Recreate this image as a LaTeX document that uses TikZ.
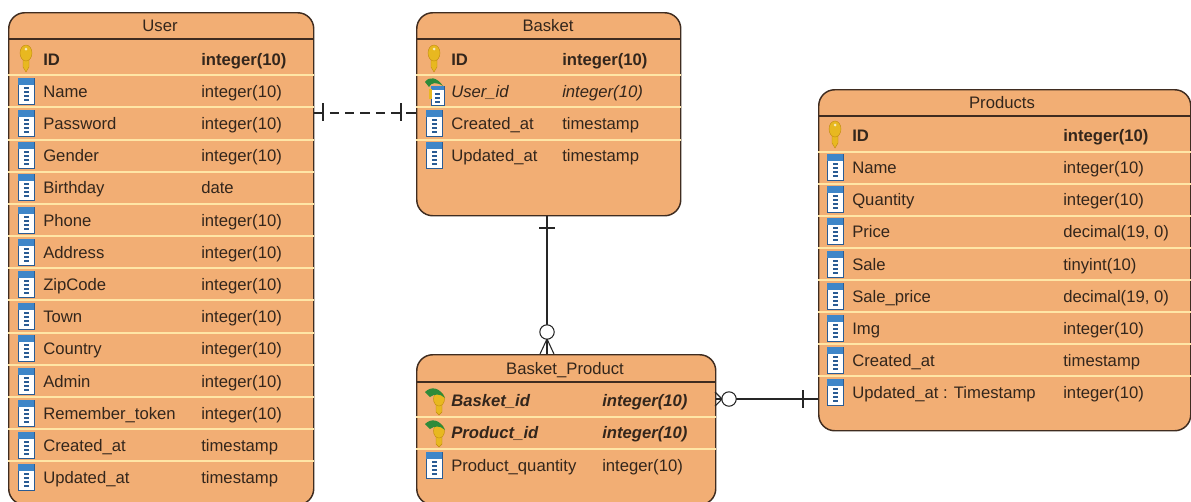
\documentclass[tikz,border=0pt]{standalone}
\usepackage{fontspec}
\setmainfont{Liberation Sans}
\definecolor{boxfill}{HTML}{F2AE74}
\definecolor{boxline}{HTML}{3F2C20}
\definecolor{sepline}{HTML}{FFE6A6}
\definecolor{txt}{HTML}{33261C}
\definecolor{iconblue}{HTML}{3F86C8}
\definecolor{icondark}{HTML}{2A5C94}
\definecolor{keygold}{HTML}{E8B820}
\definecolor{keyedge}{HTML}{C08A10}
\definecolor{fkgreen}{HTML}{2E8B3A}
\newcounter{rw}
\tikzset{
  tablebox/.style={draw=boxline,fill=boxfill,line width=1.1pt,rounded corners=12pt,inner sep=0pt,anchor=north west},
  titletxt/.style={font=\fontsize{12.5}{14}\selectfont,text=txt,inner sep=0pt,anchor=base},
  celltxt/.style={font=\fontsize{12.5}{14}\selectfont,text=txt,inner sep=0pt,anchor=base west},
  headline/.style={draw=boxline,line width=0.9pt},
  sep/.style={draw=sepline,line width=0.9pt},
  rel/.style={draw=black!85,line width=0.8pt},
  pics/keyicon/.style={code={
    \fill[keygold,draw=keyedge,line width=0.3pt] (-3,-5) -- (3,-5) -- (3,8) -- (0,13) -- (-3,8) -- cycle;
    \fill[keygold,draw=keyedge,line width=0.3pt] (0,-6) ellipse (6 and 8);
    \fill[white!70!keygold] (0,-10) circle (1.5);
  }},
  pics/colicon/.style={code={
    \fill[white,draw=icondark,line width=0.7pt] (-8,-13) rectangle (8,13);
    \fill[iconblue] (-8,-13) rectangle (8,-6);
    \foreach \d in {-3,1,5,9}{\fill[icondark] (-2.5,\d-0.8) rectangle (2.5,\d+0.8);}
  }},
  pics/fkicon/.style={code={
    \fill[white,draw=icondark,line width=0.5pt] (-3,-5) rectangle (10,14);
    \fill[iconblue] (-3,-5) rectangle (10,-1);
    \foreach \d in {3,7,11}{\fill[icondark] (1,\d-0.7) rectangle (6,\d+0.7);}
    \fill[keygold] (-2,-2) rectangle (-5,8);
    \fill[fkgreen] (-9,-9) .. controls (-5,-15) and (3,-14) .. (9,-5) .. controls (3,-9) and (-3,-9) .. (-5,-4) -- cycle;
  }},
  pics/pfkicon/.style={code={
    \fill[keygold,draw=keyedge,line width=0.3pt] (-3,0) -- (3,0) -- (3,12) -- (0,15) -- (-3,12) -- cycle;
    \fill[keygold,draw=keyedge,line width=0.3pt] (0,-1) ellipse (5.5 and 7);
    \fill[fkgreen] (-14,-8) .. controls (-8,-14) and (1,-13) .. (6,-2) .. controls (1,-7) and (-5,-6) .. (-9,-3) -- cycle;
  }},
}
\newcommand{\tabrow}[8]{% icon x, name x, type x, centre y, icon, name, type, font
  \pic at (#1,#4) {#5};
  \stepcounter{rw}
  \node[celltxt] (name\therw) at (#2,#4+6) {#8#6};
  \node[celltxt] (type\therw) at (#3,#4+6) {#8#7};
}
\begin{document}
\begin{tikzpicture}[x=0.75pt,y=-0.75pt]
\useasboundingbox (0,0) rectangle (1191,501);
\clip (0,0) rectangle (1191,501);
% tables
\node[tablebox,minimum width=228.75pt,minimum height=369pt] (user) at (8,12) {};
\node[tablebox,minimum width=198pt,minimum height=152.25pt] (basket) at (416,12) {};
\node[tablebox,minimum width=224.25pt,minimum height=112.5pt] (bp) at (416,354) {};
\node[tablebox,minimum width=279pt,minimum height=255.75pt] (products) at (818,89) {};
% titles
\node[titletxt] (tu) at (160,31) {User};
\node[titletxt] (tb) at (548,31) {Basket};
\node[titletxt] (tbp) at (565,374) {Basket\_Product};
\node[titletxt] (tp) at (1002,108) {Products};
% header lines
\draw[headline] (user.west |- 0,39) -- (user.east |- 0,39);
\draw[headline] (basket.west |- 0,39) -- (basket.east |- 0,39);
\draw[headline] (bp.west |- 0,382) -- (bp.east |- 0,382);
\draw[headline] (products.west |- 0,116) -- (products.east |- 0,116);
% separators
\foreach \y in {75,107,140,172,204,236,268,300,333,365,397,429,461}
  \draw[sep] (user.west |- 0,\y) -- (user.east |- 0,\y);
\foreach \y in {75,107,140}
  \draw[sep] (basket.west |- 0,\y) -- (basket.east |- 0,\y);
\foreach \y in {417,449}
  \draw[sep] (bp.west |- 0,\y) -- (bp.east |- 0,\y);
\foreach \y in {152,184,216,248,280,312,344,376}
  \draw[sep] (products.west |- 0,\y) -- (products.east |- 0,\y);
% User rows
\tabrow{26}{43}{201}{59}{keyicon}{ID}{integer(10)}{\bfseries}
\tabrow{26}{43}{201}{91}{colicon}{Name}{integer(10)}{}
\tabrow{26}{43}{201}{123}{colicon}{Password}{integer(10)}{}
\tabrow{26}{43}{201}{155}{colicon}{Gender}{integer(10)}{}
\tabrow{26}{43}{201}{187}{colicon}{Birthday}{date}{}
\tabrow{26}{43}{201}{220}{colicon}{Phone}{integer(10)}{}
\tabrow{26}{43}{201}{252}{colicon}{Address}{integer(10)}{}
\tabrow{26}{43}{201}{284}{colicon}{ZipCode}{integer(10)}{}
\tabrow{26}{43}{201}{316}{colicon}{Town}{integer(10)}{}
\tabrow{26}{43}{201}{348}{colicon}{Country}{integer(10)}{}
\tabrow{26}{43}{201}{381}{colicon}{Admin}{integer(10)}{}
\tabrow{26}{43}{201}{413}{colicon}{Remember\_token}{integer(10)}{}
\tabrow{26}{43}{201}{445}{colicon}{Created\_at}{timestamp}{}
\tabrow{26}{43}{201}{477}{colicon}{Updated\_at}{timestamp}{}
% Basket rows
\tabrow{434}{451}{562}{59}{keyicon}{ID}{integer(10)}{\bfseries}
\tabrow{434}{451}{562}{91}{fkicon}{User\_id}{integer(10)}{\itshape}
\tabrow{434}{451}{562}{123}{colicon}{Created\_at}{timestamp}{}
\tabrow{434}{451}{562}{155}{colicon}{Updated\_at}{timestamp}{}
% Basket_Product rows
\tabrow{439}{451}{602}{400}{pfkicon}{Basket\_id}{integer(10)}{\bfseries\itshape}
\tabrow{439}{451}{602}{432}{pfkicon}{Product\_id}{integer(10)}{\bfseries\itshape}
\tabrow{434}{451}{602}{465}{colicon}{Product\_quantity}{integer(10)}{}
% Products rows
\tabrow{835}{852}{1063}{135}{keyicon}{ID}{integer(10)}{\bfseries}
\tabrow{835}{852}{1063}{167}{colicon}{Name}{integer(10)}{}
\tabrow{835}{852}{1063}{199}{colicon}{Quantity}{integer(10)}{}
\tabrow{835}{852}{1063}{231}{colicon}{Price}{decimal(19, 0)}{}
\tabrow{835}{852}{1063}{264}{colicon}{Sale}{tinyint(10)}{}
\tabrow{835}{852}{1063}{296}{colicon}{Sale\_price}{decimal(19, 0)}{}
\tabrow{835}{852}{1063}{328}{colicon}{Img}{integer(10)}{}
\tabrow{835}{852}{1063}{360}{colicon}{Created\_at}{timestamp}{}
\tabrow{835}{852}{1063}{392}{colicon}{Updated\_at : Timestamp}{integer(10)}{}
% connectors
\coordinate (ra) at (0,113);
\coordinate (rb) at (547,0);
\coordinate (rc) at (0,399);
\draw[rel,dash pattern=on 7pt off 4.5pt] (user.east |- ra) -- (basket.west |- ra);
\draw[rel] (323,103) -- (323,121);
\draw[rel] (401,103) -- (401,121);
\draw[rel] (rb |- basket.south) -- (rb |- bp.north);
\draw[rel] (539,228) -- (555,228);
\draw[rel,fill=white] (547,332) circle (7.2);
\draw[rel] (547,339) -- (540,354) (547,339) -- (554,354);
\draw[rel] (bp.east |- rc) -- (products.west |- rc);
\draw[rel,fill=white] (729,399) circle (7.2);
\draw[rel] (722,399) -- (715,392) (722,399) -- (715,406);
\draw[rel] (803,390) -- (803,408);
\end{tikzpicture}
\end{document}
